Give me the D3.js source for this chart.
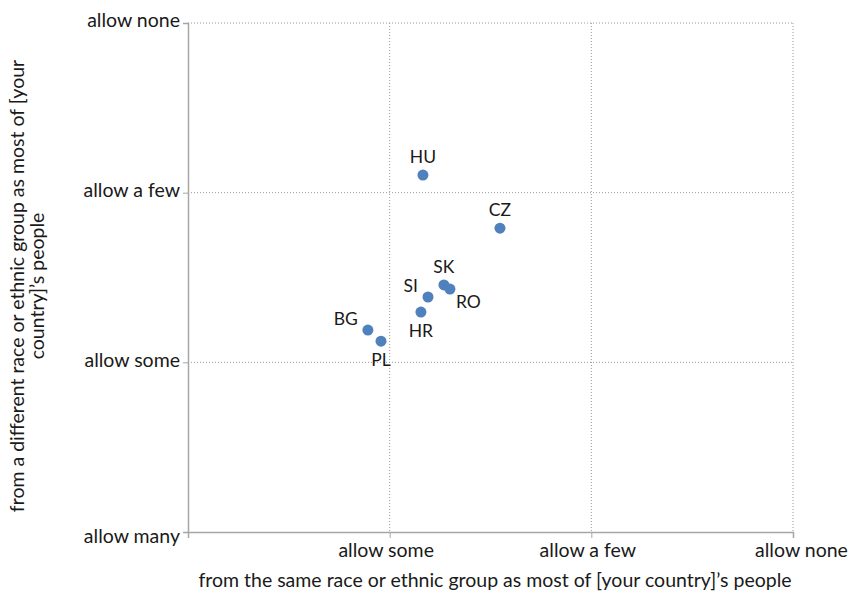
<!DOCTYPE html>
<html>
<head>
<meta charset="utf-8">
<script src="https://cdn.jsdelivr.net/npm/d3@7"></script>
<style>
  body { margin: 0; background: #fff; }
  text { font-family: Lato, "Open Sans", sans-serif; fill: #1a1a1a; }
  .axis path, .axis line { stroke: #a6a6a6; }
</style>
</head>
<body>
<div id="chart-area"></div>
<script>
// Data
const countries = ["HU", "CZ", "SK", "RO", "SI", "HR", "BG", "PL"];
const sameRace = [2.165, 2.547, 2.269, 2.299, 2.190, 2.155, 1.892, 1.957];
const diffRace = [3.104, 2.791, 2.456, 2.432, 2.385, 2.296, 2.190, 2.125];
const labelSide = ["top", "top", "top", "bottomright", "left", "bottom", "left", "bottom"];
const tickLabels = ["allow many", "allow some", "allow a few", "allow none"];
const xTitle = "from the same race or ethnic group as most of [your country]\u2019s people";
const yTitle = ["from a different race or ethnic group as most of [your", "country]\u2019s people"];

const fs = 19.5, fsPt = 17.5;

const margin = {left: 188, right: 56, top: 23, bottom: 61},
  width = 849 - margin.left - margin.right,
  height = 593 - margin.top - margin.bottom;

const svg = d3.select("#chart-area").append("svg")
  .attr("width", 849)
  .attr("height", 593);

const g = svg.append("g")
  .attr("transform", "translate(" + margin.left + "," + margin.top + ")");

const x = d3.scaleLinear().domain([1, 4]).range([0, width]);
const y = d3.scaleLinear().domain([1, 4]).range([height, 0]);

// Grid lines
g.selectAll(".vgrid").data([2, 3, 4]).enter().append("line")
  .attr("x1", d => x(d)).attr("x2", d => x(d))
  .attr("y1", 0).attr("y2", height)
  .attr("stroke", "#999").attr("stroke-dasharray", "1,2");
g.selectAll(".hgrid").data([2, 3, 4]).enter().append("line")
  .attr("x1", 0).attr("x2", width)
  .attr("y1", d => y(d)).attr("y2", d => y(d))
  .attr("stroke", "#999").attr("stroke-dasharray", "1,2");

// Axes
const xAxis = g.append("g")
  .attr("class", "axis")
  .attr("transform", "translate(0," + height + ")")
  .call(d3.axisBottom(x).tickValues([1, 2, 3, 4]).tickSize(6)
    .tickFormat((d, i) => i === 0 ? "" : tickLabels[d - 1]));
xAxis.selectAll("text").attr("font-size", fs).attr("dy", "0.8em").attr("fill", "#1a1a1a")
  .attr("dx", (d, i) => i === 3 ? 8 : -4);
xAxis.select(".domain").attr("stroke-width", 1.5);

const yAxis = g.append("g")
  .attr("class", "axis")
  .call(d3.axisLeft(y).tickValues([1, 2, 3, 4]).tickSize(5)
    .tickFormat(d => tickLabels[d - 1]));
yAxis.selectAll("text").attr("font-size", fs).attr("x", -8).attr("fill", "#1a1a1a")
  .attr("dy", d => d === 1 ? "0.55em" : "0.2em");
yAxis.select(".domain").attr("stroke-width", 1.5);

// Axis titles
svg.append("text")
  .attr("x", 495)
  .attr("y", 587)
  .attr("text-anchor", "middle")
  .attr("font-size", fs)
  .text(xTitle);

const yt = svg.append("text")
  .attr("transform", "translate(24,286) rotate(-90)")
  .attr("text-anchor", "middle")
  .attr("font-size", fs);
yt.selectAll("tspan").data(yTitle).enter().append("tspan")
  .attr("x", 0)
  .attr("dy", (d, i) => i === 0 ? 0 : 20)
  .text(d => d);

// Points
const pts = countries.map((c, i) => ({c: c, x: sameRace[i], y: diffRace[i], side: labelSide[i]}));

g.selectAll("circle").data(pts).enter().append("circle")
  .attr("cx", d => x(d.x))
  .attr("cy", d => y(d.y))
  .attr("r", 5.5)
  .attr("fill", "#4f81bd");

const off = {
  top: [0, -12, "middle"],
  bottom: [0, 25, "middle"],
  left: [-10, -5, "end"],
  bottomright: [6, 19, "start"]
};
g.selectAll(".lbl").data(pts).enter().append("text")
  .attr("class", "lbl")
  .attr("x", d => x(d.x) + off[d.side][0])
  .attr("y", d => y(d.y) + off[d.side][1])
  .attr("text-anchor", d => off[d.side][2])
  .attr("font-size", fsPt)
  .text(d => d.c);
</script>
</body>
</html>
